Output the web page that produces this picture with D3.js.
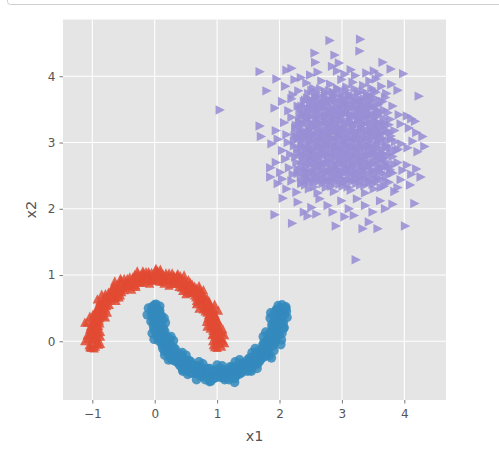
<!DOCTYPE html>
<html><head><meta charset="utf-8">
<script src="https://cdn.jsdelivr.net/npm/d3@7"></script>
<style>body{margin:0;background:#fff;} svg text{font-family:"DejaVu Sans",sans-serif;}</style>
</head><body><svg id="c" width="499" height="449"></svg>
<script>
const xTicks=[-1,0,1,2,3,4];
const yTicks=[0,1,2,3,4];
const xLabel="x1", yLabel="x2";

const moonRed=[
[0.94,-0.05],[1.02,0.02],[1.07,-0.07],[0.97,0.08],[1.05,0.06],[0.92,0.10],
[0.99,0.14],[1.04,0.20],[0.93,0.17],[0.97,0.26],[0.90,0.24],[1.02,0.29],
[0.90,0.33],[0.98,0.36],[0.95,0.31],[0.95,0.44],[0.86,0.40],[0.90,0.44],
[0.84,0.49],[0.90,0.52],[0.81,0.46],[0.84,0.59],[0.78,0.54],[0.87,0.61],
[0.75,0.63],[0.80,0.68],[0.70,0.60],[0.71,0.72],[0.66,0.67],[0.75,0.74],
[0.62,0.74],[0.67,0.80],[0.65,0.76],[0.53,0.76],[0.60,0.86],[0.57,0.82],
[0.51,0.88],[0.48,0.82],[0.54,0.93],[0.41,0.89],[0.44,0.94],[0.39,0.83],
[0.34,0.94],[0.32,0.88],[0.36,1.00],[0.27,0.99],[0.25,0.93],[0.28,1.03],
[0.16,0.92],[0.18,0.99],[0.18,1.03],[0.08,0.97],[0.09,1.04],[0.08,0.91],
[0.01,1.00],[-0.02,0.94],[0.02,1.08],[-0.09,1.02],[-0.08,0.95],[-0.10,1.05],
[-0.17,0.97],[-0.18,1.03],[-0.16,0.91],[-0.26,0.97],[-0.24,0.91],[-0.27,1.02],
[-0.35,0.97],[-0.33,0.90],[-0.31,0.86],[-0.42,0.90],[-0.44,0.95],[-0.39,0.84],
[-0.50,0.87],[-0.47,0.81],[-0.54,0.93],[-0.56,0.79],[-0.60,0.85],[-0.53,0.75],
[-0.64,0.77],[-0.61,0.73],[-0.68,0.81],[-0.72,0.72],[-0.66,0.66],[-0.74,0.74],
[-0.74,0.62],[-0.80,0.67],[-0.77,0.64],[-0.77,0.54],[-0.84,0.59],[-0.88,0.61],
[-0.87,0.50],[-0.82,0.47],[-0.91,0.52],[-0.88,0.41],[-0.94,0.44],[-0.83,0.39],
[-0.96,0.35],[-0.89,0.32],[-1.00,0.36],[-0.95,0.25],[-1.00,0.27],[-0.90,0.24],
[-0.99,0.18],[-0.94,0.16],[-1.04,0.19],[-0.97,0.08],[-1.03,0.09],[-0.93,0.07],
[-1.00,-0.02],[-0.95,-0.07],[-1.05,-0.05],[-1.12,0.29],[0.02,1.10],[-1.02,-0.09],
[0.96,-0.08],[-0.55,0.70],[0.30,0.96],[-0.30,0.95],[0.60,0.80],[-0.20,1.00],[0.85,0.50],
[1.09,0.02],[1.06,0.15],[-1.08,0.10],[-0.92,0.00],
[0.99,0.04],[1.06,0.05],[0.93,0.01],[1.01,0.13],[0.94,0.12],[1.07,0.14],
[0.95,0.21],[1.02,0.22],[0.89,0.20],[0.95,0.30],[0.90,0.28],[1.01,0.32],
[0.91,0.38],[0.97,0.40],[0.85,0.35],[0.90,0.47],[0.84,0.44],[0.95,0.49],
[0.82,0.52],[0.88,0.56],[0.78,0.49],[0.79,0.61],[0.75,0.57],[0.84,0.65],
[0.71,0.66],[0.76,0.70],[0.67,0.62],[0.69,0.75],[0.64,0.70],[0.72,0.79],
[0.60,0.78],[0.64,0.83],[0.57,0.74],[0.54,0.84],[0.50,0.79],[0.57,0.89],
[0.45,0.86],[0.48,0.92],[0.43,0.82],[0.39,0.94],[0.36,0.88],[0.41,0.99],
[0.29,0.93],[0.31,0.99],[0.28,0.88],[0.22,0.99],[0.21,0.93],[0.23,1.03],
[0.13,0.96],[0.13,1.02],[0.12,0.91],[0.04,1.00],[0.04,0.94],[0.05,1.06],
[-0.04,0.98],[-0.05,1.04],[-0.04,0.92],[-0.13,1.00],[-0.12,0.94],[-0.14,1.05],
[-0.21,0.95],[-0.22,1.01],[-0.20,0.89],[-0.30,0.95],[-0.28,0.90],[-0.32,1.01],
[-0.38,0.91],[-0.40,0.97],[-0.35,0.85],[-0.47,0.90],[-0.44,0.84],[-0.49,0.95],
[-0.52,0.82],[-0.56,0.88],[-0.49,0.78],[-0.61,0.79],[-0.57,0.75],[-0.65,0.84],
[-0.66,0.72],[-0.70,0.77],[-0.62,0.67],[-0.74,0.68],[-0.70,0.64],[-0.79,0.72],
[-0.77,0.59],[-0.82,0.63],[-0.73,0.56],[-0.84,0.54],[-0.79,0.50],[-0.89,0.57],
[-0.87,0.45],[-0.93,0.49],[-0.82,0.43],[-0.94,0.39],[-0.88,0.36],[-0.99,0.41],
[-0.93,0.29],[-0.99,0.31],[-0.88,0.28],[-0.98,0.22],[-0.92,0.20],[-1.03,0.23],
[-0.97,0.13],[-1.03,0.14],[-0.91,0.12],[-1.01,0.04],[-0.95,0.04],[-1.07,0.05],
[-1.04,-0.08],[-0.97,-0.10],[-0.90,-0.04],[1.00,-0.09],[1.04,-0.02],[0.99,-0.03],
[1.12,0.10],[0.84,0.23],[1.02,0.47],[0.71,0.50],[0.78,0.78],[0.50,0.72],[0.47,1.00],[0.23,0.85],
[0.09,1.09],[-0.08,0.88],[-0.28,1.06],[-0.37,0.79],[-0.64,0.91],[-0.62,0.62],[-0.92,0.64],[-0.79,0.37],
[-1.08,0.29],[-0.87,0.08],[1.12,-0.02],[1.09,0.19],[0.83,0.30],[0.96,0.56],[0.67,0.57],[0.71,0.84],
[0.45,0.77],[0.37,1.02],[0.15,0.88],[-0.19,1.06],[-0.30,0.83],[-0.55,0.95],[-0.57,0.67],[-0.85,0.71],
[-0.76,0.44],[-1.04,0.38],[-0.87,0.15],[-1.12,0.01],[-0.87,-0.03]
];

const moonBlue=[
[0.03,0.50],[-0.04,0.47],[0.08,0.53],[0.00,0.42],[0.07,0.44],[-0.05,0.39],
[0.05,0.33],[-0.01,0.32],[0.11,0.34],[0.03,0.24],[0.10,0.26],[-0.02,0.23],
[0.09,0.17],[0.02,0.14],[0.14,0.19],[0.08,0.07],[0.15,0.10],[0.05,0.06],
[0.17,0.02],[0.11,-0.02],[0.22,0.05],[0.18,-0.07],[0.24,-0.03],[0.13,-0.11],
[0.26,-0.12],[0.20,-0.17],[0.30,-0.09],[0.28,-0.22],[0.33,-0.17],[0.25,-0.25],
[0.38,-0.24],[0.33,-0.30],[0.41,-0.20],[0.43,-0.32],[0.46,-0.27],[0.40,-0.36],
[0.52,-0.33],[0.48,-0.39],[0.55,-0.29],[0.57,-0.42],[0.60,-0.36],[0.55,-0.46],
[0.66,-0.42],[0.64,-0.48],[0.68,-0.37],[0.74,-0.49],[0.76,-0.41],[0.73,-0.52],
[0.83,-0.46],[0.82,-0.53],[0.84,-0.41],[0.91,-0.50],[0.92,-0.45],[0.90,-0.56],
[1.00,-0.47],[0.99,-0.54],[1.02,-0.42],[1.09,-0.48],[1.09,-0.54],[1.08,-0.42],
[1.18,-0.49],[1.17,-0.44],[1.18,-0.54],[1.25,-0.44],[1.27,-0.50],[1.24,-0.38],
[1.34,-0.44],[1.32,-0.38],[1.36,-0.49],[1.41,-0.37],[1.44,-0.44],[1.39,-0.33],
[1.51,-0.38],[1.48,-0.32],[1.53,-0.43],[1.56,-0.29],[1.60,-0.35],[1.52,-0.25],
[1.64,-0.27],[1.60,-0.22],[1.68,-0.30],[1.69,-0.19],[1.74,-0.24],[1.65,-0.15],
[1.77,-0.15],[1.73,-0.11],[1.81,-0.18],[1.79,-0.05],[1.84,-0.09],[1.75,-0.02],
[1.87,0.00],[1.81,0.03],[1.92,-0.03],[1.89,0.09],[1.94,0.06],[1.83,0.11],
[1.96,0.15],[1.89,0.18],[2.00,0.14],[1.94,0.25],[2.00,0.23],[1.88,0.26],
[1.99,0.33],[1.93,0.34],[2.03,0.32],[1.97,0.42],[2.04,0.41],[1.92,0.43],
[2.00,0.50],[1.95,0.48],[2.05,0.47],[2.08,0.40],[2.11,0.45],[2.03,0.02],
[1.87,-0.25],[1.28,-0.62],[0.67,-0.58],[0.88,-0.61],[0.00,0.55],[-0.06,0.30],
[0.45,-0.43],[1.12,-0.58],[2.07,0.20],[2.02,-0.05],
[0.01,0.46],[-0.05,0.45],[0.08,0.46],[-0.01,0.37],[0.06,0.38],[0.11,0.38],
[0.05,0.29],[-0.02,0.28],[0.11,0.30],[0.05,0.20],[0.11,0.22],[-0.01,0.18],
[0.09,0.12],[0.03,0.10],[0.16,0.15],[0.10,0.03],[0.17,0.07],[0.06,0.01],
[0.18,-0.02],[0.12,-0.06],[0.24,0.02],[0.21,-0.11],[0.26,-0.07],[0.16,-0.15],
[0.29,-0.16],[0.23,-0.20],[0.33,-0.12],[0.31,-0.25],[0.36,-0.20],[0.28,-0.28],
[0.40,-0.28],[0.37,-0.32],[0.44,-0.23],[0.46,-0.34],[0.50,-0.29],[0.43,-0.39],
[0.55,-0.36],[0.52,-0.42],[0.58,-0.31],[0.61,-0.43],[0.64,-0.38],[0.59,-0.48],
[0.71,-0.43],[0.69,-0.49],[0.72,-0.38],[0.78,-0.50],[0.79,-0.43],[0.77,-0.53],
[0.87,-0.46],[0.86,-0.53],[0.88,-0.41],[0.96,-0.50],[0.96,-0.44],[0.95,-0.56],
[1.04,-0.48],[1.05,-0.54],[1.04,-0.42],[1.13,-0.50],[1.12,-0.44],[1.14,-0.55],
[1.21,-0.45],[1.22,-0.51],[1.20,-0.39],[1.30,-0.45],[1.28,-0.40],[1.32,-0.51],
[1.38,-0.41],[1.40,-0.47],[1.35,-0.35],[1.47,-0.40],[1.44,-0.34],[1.49,-0.45],
[1.52,-0.32],[1.56,-0.38],[1.49,-0.28],[1.61,-0.29],[1.57,-0.25],[1.65,-0.34],
[1.66,-0.22],[1.70,-0.27],[1.62,-0.17],[1.74,-0.18],[1.70,-0.14],[1.79,-0.22],
[1.77,-0.09],[1.82,-0.13],[1.73,-0.06],[1.84,-0.04],[1.79,0.00],[1.89,-0.07],
[1.87,0.05],[1.93,0.01],[1.82,0.07],[1.94,0.11],[1.88,0.14],[1.99,0.09],
[1.93,0.21],[1.99,0.19],[1.88,0.22],[1.98,0.28],[1.92,0.30],[2.03,0.27],
[1.97,0.37],[2.03,0.36],[1.91,0.38],[2.01,0.46],[1.95,0.46],[2.07,0.45],
[2.10,0.52],[2.04,0.55],[1.98,0.54],[2.12,0.36],[2.06,0.28],[0.02,0.56],[-0.04,0.52],
[-0.12,0.40],[0.17,0.28],[-0.01,0.03],[0.30,0.01],[0.22,-0.28],[0.50,-0.21],[0.53,-0.50],[0.77,-0.34],
[0.90,-0.60],[1.08,-0.37],[1.28,-0.56],[1.36,-0.28],[1.64,-0.41],[1.61,-0.11],[1.91,-0.14],[1.78,0.14],
[2.07,0.21],[1.86,0.43],[0.15,0.35],[-0.04,0.12],[0.26,0.07],[0.16,-0.21],[0.44,-0.17],[0.45,-0.45],
[0.71,-0.31],[0.81,-0.58],[1.00,-0.36],[1.19,-0.58],[1.29,-0.31],[1.55,-0.45],[1.56,-0.17],[1.84,-0.21],
[1.74,0.07],[2.04,0.12],[1.85,0.35],[2.10,0.50],[-0.10,0.50]
];

const blob=[
[2.81,4.54],[3.30,4.56],[2.57,4.35],[2.58,4.21],[2.89,4.32],[3.29,4.38],
[1.69,4.07],[2.12,4.09],[2.20,4.12],[3.99,4.04],[3.66,4.21],[3.79,4.11],[2.50,4.02],[2.62,4.06],[2.85,4.15],[2.93,4.08],[3.05,4.03],[3.15,4.10],[3.40,4.05],[3.52,4.08],[3.60,4.02],[2.35,3.98],[2.96,4.20],[3.22,4.01],
[1.96,3.96],[1.80,3.78],[4.24,3.70],[2.10,3.85],[2.25,3.95],[2.31,3.78],[2.44,3.90],[2.55,3.82],[2.68,3.93],[2.74,3.76],[2.82,3.88],[2.90,3.72],[3.00,3.95],[3.08,3.84],[3.18,3.91],[3.26,3.75],[3.35,3.86],[3.45,3.93],[3.52,3.78],[3.64,3.85],[3.72,3.74],[3.80,3.88],[3.90,3.79],[2.62,3.71],[3.12,3.72],[2.22,3.72],[3.55,3.96],[2.95,3.80],
[1.93,3.52],[2.05,3.62],[2.15,3.48],[2.20,3.66],[2.30,3.55],[2.38,3.44],[2.42,3.64],[2.50,3.52],[2.58,3.68],[2.64,3.42],[2.70,3.58],[2.78,3.48],[2.85,3.62],[2.92,3.45],[2.98,3.55],[3.04,3.68],[3.10,3.50],[3.16,3.42],[3.22,3.60],[3.30,3.52],[3.36,3.66],[3.42,3.44],[3.50,3.58],[3.58,3.48],[3.66,3.62],[3.74,3.45],[3.82,3.55],[3.92,3.42],[4.05,3.40],[4.12,3.36],[4.18,3.32],[2.74,3.40],[2.88,3.70],[3.00,3.41],[3.26,3.45],[3.46,3.70],[2.46,3.46],[2.62,3.56],[3.08,3.60],[3.70,3.68],
[1.69,3.25],[1.95,3.18],[2.08,3.30],[2.12,3.12],[2.20,3.38],[2.26,3.22],[2.33,3.30],[2.36,3.14],[2.42,3.36],[2.48,3.20],[2.53,3.28],[2.57,3.12],[2.62,3.35],[2.66,3.22],[2.71,3.15],[2.75,3.30],[2.80,3.38],[2.84,3.18],[2.88,3.26],[2.93,3.12],[2.97,3.33],[3.02,3.20],[3.06,3.28],[3.10,3.14],[3.14,3.36],[3.18,3.24],[3.23,3.16],[3.27,3.32],[3.32,3.20],[3.37,3.28],[3.42,3.12],[3.46,3.36],[3.52,3.22],[3.58,3.30],[3.63,3.15],[3.70,3.26],[3.78,3.35],[3.85,3.18],[3.95,3.28],[4.08,3.22],[4.30,3.09],[4.20,3.15],[2.25,3.10],[2.90,3.35],[3.30,3.38],[3.55,3.12],[2.50,3.38],[3.00,3.15],
[1.71,3.09],[1.88,2.98],[1.98,3.05],[2.05,2.88],[2.14,3.00],[2.18,2.82],[2.24,2.95],[2.30,3.06],[2.35,2.86],[2.40,2.98],[2.45,2.90],[2.50,3.04],[2.55,2.84],[2.60,2.96],[2.64,3.08],[2.68,2.88],[2.73,3.00],[2.78,2.82],[2.82,2.94],[2.86,3.06],[2.90,2.86],[2.95,2.98],[3.00,2.90],[3.04,3.04],[3.08,2.84],[3.12,2.96],[3.17,3.08],[3.21,2.88],[3.25,3.00],[3.30,2.82],[3.34,2.94],[3.39,3.06],[3.44,2.86],[3.49,2.98],[3.54,2.90],[3.60,3.04],[3.66,2.84],[3.72,2.96],[3.80,3.05],[3.88,2.88],[3.96,2.98],[4.06,2.92],[4.14,3.02],[4.33,2.94],[4.22,2.86],[2.70,2.93],[3.15,2.91],[3.58,2.80],[2.38,3.08],[2.97,3.09],
[1.86,2.62],[1.95,2.70],[2.02,2.55],[2.10,2.75],[2.16,2.62],[2.22,2.52],[2.28,2.70],[2.33,2.58],[2.39,2.76],[2.44,2.64],[2.49,2.54],[2.54,2.72],[2.59,2.60],[2.64,2.78],[2.69,2.66],[2.74,2.54],[2.79,2.72],[2.84,2.60],[2.89,2.78],[2.94,2.66],[2.99,2.52],[3.04,2.70],[3.09,2.58],[3.14,2.76],[3.19,2.64],[3.24,2.54],[3.29,2.72],[3.34,2.60],[3.40,2.78],[3.45,2.66],[3.50,2.55],[3.56,2.72],[3.62,2.60],[3.68,2.76],[3.75,2.64],[3.82,2.54],[3.90,2.70],[3.98,2.58],[4.05,2.66],[4.12,2.52],[4.20,2.60],[4.27,2.48],[2.60,2.50],[3.00,2.80],[3.35,2.50],[2.80,2.56],
[1.86,2.48],[1.98,2.38],[2.05,2.45],[2.12,2.30],[2.20,2.42],[2.28,2.25],[2.36,2.38],[2.42,2.46],[2.48,2.30],[2.55,2.40],[2.62,2.24],[2.68,2.44],[2.75,2.32],[2.82,2.40],[2.88,2.26],[2.95,2.46],[3.02,2.34],[3.08,2.42],[3.15,2.28],[3.22,2.44],[3.30,2.36],[3.38,2.24],[3.45,2.42],[3.52,2.30],[3.60,2.46],[3.68,2.34],[3.76,2.40],[3.85,2.26],[3.95,2.44],[4.10,2.36],[2.06,2.16],[3.90,2.32],
[1.93,1.91],[2.21,1.78],[2.46,1.89],[2.91,1.74],[3.34,1.70],[3.58,1.70],[4.02,1.74],[4.17,2.08],[3.82,2.07],[3.44,1.80],[2.30,2.10],[2.52,2.02],[2.65,2.15],[2.78,2.05],[2.86,1.95],[3.00,2.12],[3.12,2.00],[3.25,2.15],[3.38,2.05],[3.50,1.95],[3.62,2.12],[3.70,2.00],[2.40,1.95],[3.05,1.88],[2.60,1.92],[3.20,1.90],
[1.05,3.49],[3.23,1.23],
[2.45,2.50],[2.52,2.88],[2.58,3.25],[2.66,3.50],[2.72,2.70],[2.77,3.10],[2.83,3.45],[2.87,2.50],[2.92,2.92],[2.96,3.22],[3.03,3.56],[3.07,2.62],[3.11,3.05],[3.16,3.30],[3.20,2.80],[3.24,3.62],[3.28,3.08],[3.33,2.70],[3.38,3.40],[3.42,2.95],[3.47,3.18],[2.48,3.12],[2.55,3.58],[2.62,2.68],[2.68,3.02],[2.75,3.62],[2.80,2.98],[2.86,3.32],[2.93,2.60],[2.99,3.48],[3.06,2.96],[3.13,2.52],[3.19,3.18],[3.26,2.92],[3.32,3.56],[3.40,2.62],[2.50,2.76],[2.58,2.45],[3.45,3.52],[3.50,2.85],
[2.42,2.36],[2.56,2.33],[2.70,2.38],[2.84,2.34],[2.97,2.37],[3.10,2.33],[3.24,2.38],[3.37,2.35],[3.50,2.37],[3.63,2.32],
[2.35,2.48],[2.48,2.45],[2.63,2.49],[2.76,2.46],[2.90,2.48],[3.03,2.45],[3.17,2.49],[3.30,2.46],[3.44,2.48],[3.57,2.45],[3.71,2.49],
[2.30,2.60],[2.43,2.58],[2.57,2.62],[2.70,2.59],[2.83,2.61],[2.97,2.58],[3.11,2.62],[3.24,2.59],[3.37,2.61],[3.51,2.58],[3.65,2.62],[3.78,2.59],
[2.38,2.71],[2.52,2.74],[2.66,2.70],[2.79,2.73],[2.92,2.71],[3.06,2.74],[3.19,2.70],[3.33,2.73],[3.46,2.71],[3.60,2.74],[3.73,2.70],
[2.31,2.83],[2.44,2.85],[2.58,2.82],[2.72,2.86],[2.85,2.83],[2.99,2.85],[3.12,2.82],[3.26,2.86],[3.39,2.83],[3.53,2.85],[3.67,2.82],[3.80,2.85],
[2.36,2.95],[2.49,2.97],[2.63,2.94],[2.77,2.98],[2.90,2.95],[3.04,2.97],[3.17,2.94],[3.31,2.98],[3.44,2.95],[3.58,2.97],[3.71,2.94],
[2.30,3.07],[2.44,3.09],[2.57,3.06],[2.71,3.10],[2.84,3.07],[2.98,3.09],[3.12,3.06],[3.25,3.10],[3.39,3.07],[3.52,3.09],[3.66,3.06],[3.79,3.10],
[2.37,3.19],[2.51,3.21],[2.64,3.18],[2.78,3.22],[2.91,3.19],[3.05,3.21],[3.19,3.18],[3.32,3.22],[3.46,3.19],[3.59,3.21],[3.73,3.18],
[2.32,3.31],[2.45,3.33],[2.59,3.30],[2.73,3.34],[2.86,3.31],[3.00,3.33],[3.13,3.30],[3.27,3.34],[3.40,3.31],[3.54,3.33],[3.68,3.30],
[2.40,3.43],[2.54,3.45],[2.67,3.42],[2.81,3.46],[2.95,3.43],[3.08,3.45],[3.22,3.42],[3.35,3.46],[3.49,3.43],[3.62,3.45],
[2.36,3.55],[2.50,3.57],[2.64,3.54],[2.77,3.58],[2.91,3.55],[3.05,3.57],[3.18,3.54],[3.32,3.58],[3.45,3.55],[3.59,3.57],
[2.45,3.67],[2.59,3.69],[2.72,3.66],[2.86,3.70],[3.00,3.67],[3.13,3.69],[3.27,3.66],[3.41,3.70],[3.54,3.67],
[2.52,3.79],[2.66,3.81],[2.80,3.78],[2.93,3.82],[3.07,3.79],[3.21,3.81],[3.34,3.78],[3.48,3.82],
[2.36,2.40],[2.49,2.42],[2.63,2.41],[2.77,2.43],[2.90,2.40],[3.04,2.42],[3.17,2.41],[3.31,2.43],[3.44,2.40],[3.58,2.42],[3.71,2.41],
[2.30,2.53],[2.44,2.55],[2.57,2.54],[2.71,2.52],[2.84,2.55],[2.98,2.53],[3.11,2.56],[3.25,2.53],[3.38,2.55],[3.52,2.52],[3.66,2.54],[3.79,2.55],
[2.36,2.66],[2.50,2.67],[2.63,2.65],[2.77,2.67],[2.90,2.64],[3.04,2.66],[3.18,2.68],[3.31,2.65],[3.45,2.67],[3.58,2.64],[3.72,2.66],[3.85,2.67],
[2.26,2.78],[2.44,2.79],[2.58,2.77],[2.71,2.80],[2.85,2.78],[2.98,2.76],[3.12,2.79],[3.25,2.77],[3.39,2.80],[3.52,2.78],[3.66,2.77],[3.82,2.79],
[2.29,2.90],[2.43,2.91],[2.56,2.89],[2.70,2.92],[2.83,2.90],[2.97,2.88],[3.10,2.91],[3.24,2.89],[3.37,2.92],[3.51,2.90],[3.64,2.89],[3.78,2.91],[3.91,2.90],
[2.24,3.02],[2.37,3.03],[2.51,3.01],[2.64,3.03],[2.78,3.02],[2.91,3.00],[3.05,3.03],[3.18,3.01],[3.32,3.03],[3.45,3.02],[3.59,3.00],[3.72,3.03],[3.86,3.01],
[2.28,3.14],[2.42,3.15],[2.55,3.13],[2.69,3.16],[2.82,3.14],[2.96,3.12],[3.09,3.15],[3.23,3.13],[3.36,3.16],[3.50,3.14],[3.63,3.12],[3.77,3.15],
[2.27,3.26],[2.40,3.27],[2.54,3.25],[2.67,3.28],[2.81,3.26],[2.94,3.24],[3.08,3.27],[3.21,3.25],[3.35,3.28],[3.48,3.26],[3.62,3.24],[3.76,3.27],
[2.33,3.38],[2.47,3.39],[2.60,3.37],[2.74,3.40],[2.87,3.38],[3.01,3.36],[3.14,3.39],[3.28,3.37],[3.41,3.40],[3.55,3.38],[3.68,3.36],
[2.33,3.50],[2.47,3.51],[2.60,3.49],[2.74,3.52],[2.87,3.50],[3.01,3.48],[3.14,3.51],[3.28,3.49],[3.41,3.52],[3.55,3.50],[3.68,3.49],
[2.40,3.62],[2.54,3.63],[2.67,3.61],[2.81,3.64],[2.94,3.62],[3.08,3.60],[3.21,3.63],[3.35,3.61],[3.48,3.64],[3.62,3.62],
[2.47,3.74],[2.60,3.75],[2.74,3.73],[2.87,3.76],[3.01,3.74],[3.14,3.72],[3.28,3.75],[3.41,3.73],[3.55,3.76],
[2.45,2.44],[2.58,2.45],[2.72,2.43],[2.85,2.45],[2.99,2.44],[3.12,2.43],[3.26,2.45],[3.39,2.44],[3.53,2.43],
[2.40,2.57],[2.53,2.56],[2.67,2.58],[2.80,2.56],[2.94,2.57],[3.07,2.55],[3.21,2.57],[3.34,2.56],[3.48,2.58],[3.61,2.56],
[2.44,2.69],[2.57,2.70],[2.71,2.68],[2.84,2.69],[2.98,2.70],[3.11,2.68],[3.25,2.69],[3.38,2.70],[3.52,2.68],[3.65,2.69],
[2.38,2.81],[2.51,2.80],[2.65,2.82],[2.78,2.81],[2.92,2.80],[3.05,2.82],[3.19,2.81],[3.32,2.80],[3.46,2.82],[3.59,2.81],[3.73,2.80],
[2.36,2.93],[2.50,2.92],[2.63,2.94],[2.77,2.93],[2.90,2.92],[3.04,2.94],[3.17,2.93],[3.31,2.92],[3.44,2.94],[3.58,2.93],[3.71,2.92],
[2.40,3.05],[2.54,3.04],[2.67,3.06],[2.81,3.05],[2.94,3.04],[3.08,3.06],[3.21,3.05],[3.35,3.04],[3.48,3.06],[3.62,3.05],
[2.34,3.17],[2.48,3.16],[2.61,3.18],[2.75,3.17],[2.88,3.16],[3.02,3.18],[3.15,3.17],[3.29,3.16],[3.42,3.18],[3.56,3.17],[3.69,3.16],
[2.38,3.29],[2.52,3.28],[2.65,3.30],[2.79,3.29],[2.92,3.28],[3.06,3.30],[3.19,3.29],[3.33,3.28],[3.46,3.30],[3.60,3.29],
[2.36,3.41],[2.50,3.40],[2.63,3.42],[2.77,3.41],[2.90,3.40],[3.04,3.42],[3.17,3.41],[3.31,3.40],[3.44,3.42],[3.58,3.41],
[2.42,3.53],[2.56,3.52],[2.69,3.54],[2.83,3.53],[2.96,3.52],[3.10,3.54],[3.23,3.53],[3.37,3.52],[3.50,3.54],
[2.50,3.65],[2.63,3.64],[2.77,3.66],[2.90,3.65],[3.04,3.64],[3.17,3.66],[3.31,3.65],[3.44,3.64]
];

const svg=d3.select("#c");
const L=63,R=446,T=19.5,B=400;
const x=d3.scaleLinear().domain([-1.47,4.668]).range([L,R]);
const y=d3.scaleLinear().domain([-0.886,4.857]).range([B,T]);

svg.append("rect").attr("x",7.5).attr("y",-10).attr("width",500).attr("height",14.5).attr("rx",3)
  .attr("fill","none").attr("stroke","#cfcfcf").attr("stroke-width",1);

svg.append("rect").attr("x",L).attr("y",T).attr("width",R-L).attr("height",B-T).attr("fill","#E5E5E5");

const g=svg.append("g");
g.selectAll(".gx").data(xTicks).join("line").attr("x1",d=>x(d)).attr("x2",d=>x(d)).attr("y1",T).attr("y2",B)
  .attr("stroke","#fff").attr("stroke-width",1.1);
g.selectAll(".gy").data(yTicks).join("line").attr("y1",d=>y(d)).attr("y2",d=>y(d)).attr("x1",L).attr("x2",R)
  .attr("stroke","#fff").attr("stroke-width",1.1);

const fmt=d=>d<0?"\u2212"+Math.abs(d):String(d);
const ax=svg.append("g").attr("transform",`translate(0,${B})`).call(d3.axisBottom(x).tickValues(xTicks).tickSize(3.5).tickPadding(4).tickFormat(fmt));
const ay=svg.append("g").attr("transform",`translate(${L},0)`).call(d3.axisLeft(y).tickValues(yTicks).tickSize(3.5).tickPadding(4).tickFormat(fmt));
[ax,ay].forEach(a=>{a.select(".domain").remove();a.selectAll("line").attr("stroke","#555").attr("stroke-width",0.8);
  a.selectAll("text").attr("fill","#555").style("font-size","12px").style("font-family","DejaVu Sans");});
ax.selectAll("text").attr("dy","0.9em");

svg.append("text").attr("x",(L+R)/2).attr("y",441).attr("text-anchor","middle").attr("fill","#555")
  .style("font-size","14.4px").text(xLabel);
svg.append("text").attr("transform",`translate(36,${(T+B)/2}) rotate(-90)`).attr("text-anchor","middle").attr("fill","#555")
  .style("font-size","14.4px").text(yLabel);

const s=4.7;
const triUp=`M0,${-s}L${s},${s}L${-s},${s}Z`;
const triRight=`M${s},0L${-s},${-s}L${-s},${s}Z`;
const pg=svg.append("g");
pg.selectAll(".r").data(moonRed).join("path").attr("d",triUp)
  .attr("transform",d=>`translate(${x(d[0])},${y(d[1])})`).attr("fill","#E24A33").attr("fill-opacity",0.85);
pg.selectAll(".b").data(moonBlue).join("circle").attr("cx",d=>x(d[0])).attr("cy",d=>y(d[1])).attr("r",4.8)
  .attr("fill","#348ABD").attr("fill-opacity",0.85);
pg.selectAll(".p").data(blob).join("path").attr("d",triRight)
  .attr("transform",d=>`translate(${x(d[0])},${y(d[1])})`).attr("fill","#988ED5").attr("fill-opacity",0.88);
</script></body></html>
